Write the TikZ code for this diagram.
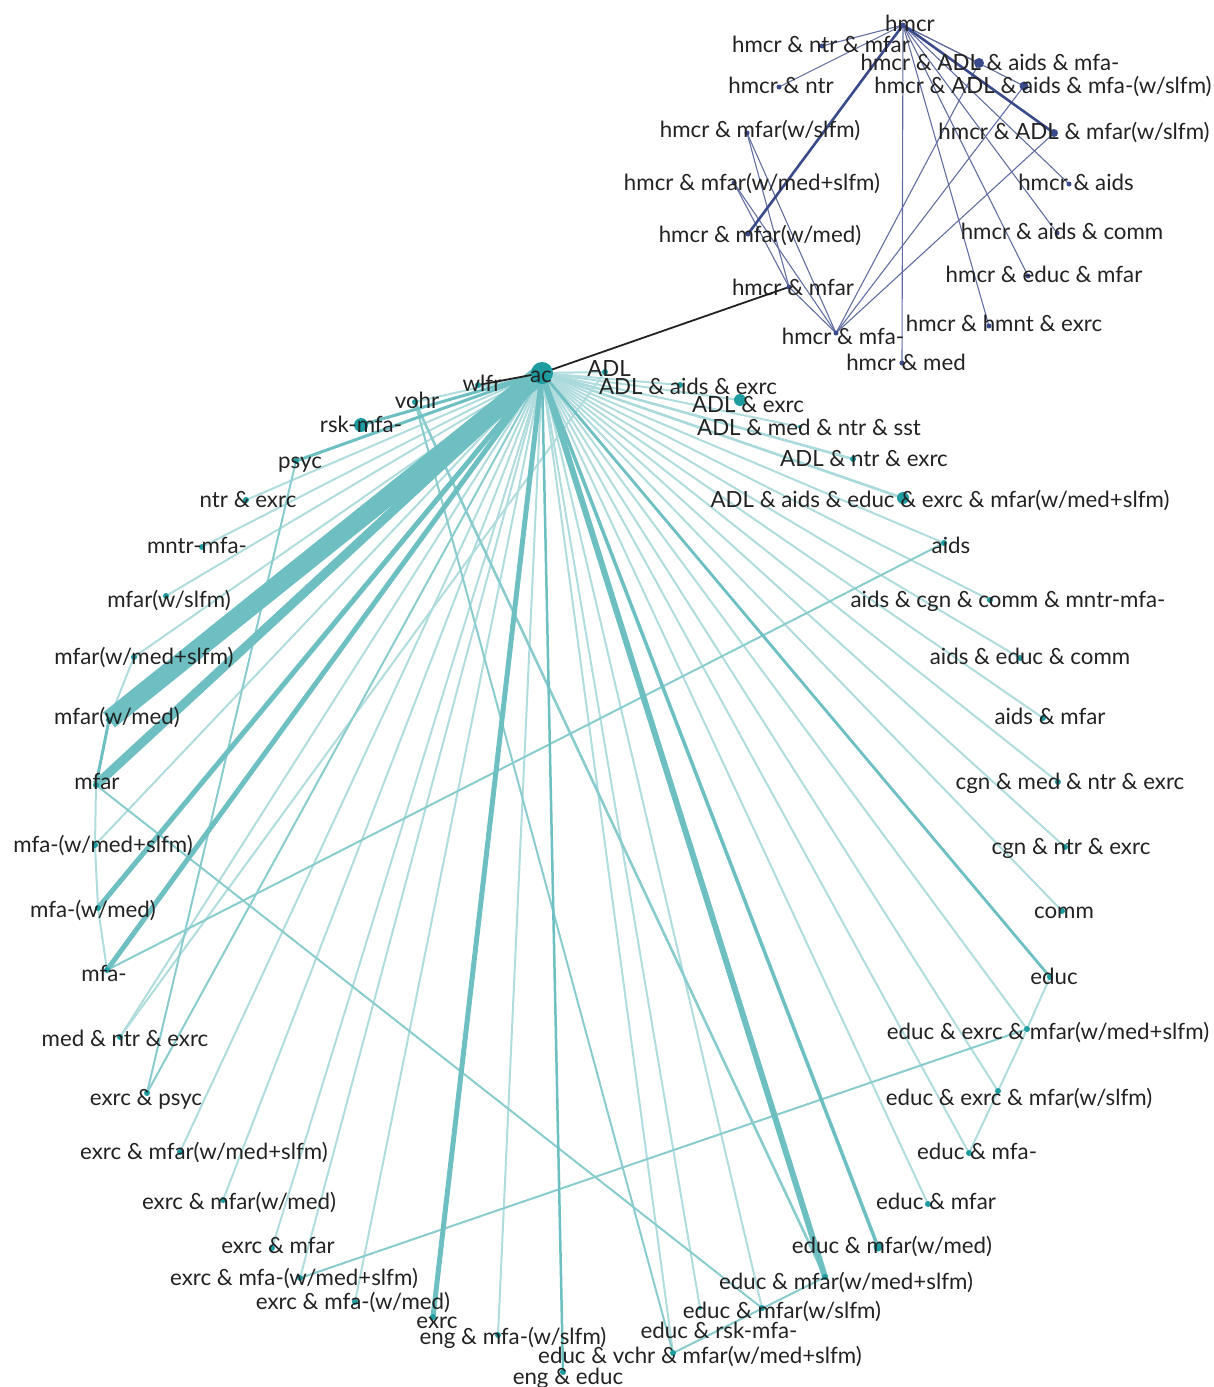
\documentclass[tikz,border=0pt]{standalone}
\usepackage{fontspec}
\setmainfont{Lato}
\definecolor{tl}{HTML}{1E9CA0}
\definecolor{bl}{HTML}{3B4A8A}
\definecolor{tx}{HTML}{222222}
\pgfdeclarelayer{edges}
\pgfdeclarelayer{dots}
\pgfsetlayers{edges,dots,main}
\tikzset{
 lbl/.style={text=tx,inner sep=0pt,text height=19pt,text depth=3pt,font=\fontsize{22.3}{25}\selectfont},
 tdot/.style={circle,fill=tl,inner sep=0pt,minimum size=#1},
 tdot/.default=6pt,
 bdot/.style={circle,fill=bl,inner sep=0pt,minimum size=#1},
 bdot/.default=5pt,
 el/.style={draw=tl!35,line width=2pt},
 elb/.style={draw=tl!38,line width=2.6pt},
 em/.style={draw=tl!52,line width=2pt},
 emd/.style={draw=tl!65,line width=#1},
 bthin/.style={draw=bl!80,line width=1.1pt},
 bthick/.style={draw=bl,line width=2.6pt},
 blk/.style={draw=tx,line width=1.8pt}
}
\newcommand\TN[5][6pt]{\begin{pgfonlayer}{dots}\node[tdot=#1] (#2) at (#3) {};\end{pgfonlayer}\node[lbl] (#2-l) at (#4) {#5};}
\newcommand\BN[5][5pt]{\begin{pgfonlayer}{dots}\node[bdot=#1] (#2) at (#3) {};\end{pgfonlayer}\node[lbl] (#2-l) at (#4) {#5};}
\begin{document}
\begin{tikzpicture}[x=1pt,y=-1pt]
\useasboundingbox (0,0) rectangle (1213,1387);
% ---- blue cluster
\BN{h}{903,25}{910,23}{hmcr}
\BN{hnm}{822,46}{821,44}{hmcr \& ntr \& mfar}
\BN[10pt]{haam}{979,63}{990,62}{hmcr \& ADL \& aids \& mfa-}
\BN{hn}{779,87}{781,85}{hmcr \& ntr}
\BN[9pt]{haams}{1024,86}{1043,85}{hmcr \& ADL \& aids \& mfa-(w/slfm)}
\BN{hms}{747,133}{760,129}{hmcr \& mfar(w/slfm)}
\BN[8pt]{hams}{1054,133}{1074,131}{hmcr \& ADL \& mfar(w/slfm)}
\BN{hmms}{734,183}{752,182}{hmcr \& mfar(w/med+slfm)}
\BN{ha}{1069,184}{1076,182}{hmcr \& aids}
\BN{hmm}{748,234}{760,234}{hmcr \& mfar(w/med)}
\BN{hac}{1057,233}{1062,231}{hmcr \& aids \& comm}
\BN{hem}{1028,276}{1044,274}{hmcr \& educ \& mfar}
\BN{hm}{789,287}{793,287}{hmcr \& mfar}
\BN{hma}{836,333}{843,336}{hmcr \& mfa-}
\BN{hhe}{989,326}{1004,323}{hmcr \& hmnt \& exrc}
\BN{hmed}{902,363}{906,362}{hmcr \& med}
% ---- teal cluster
\TN[22pt]{ac}{542,373}{541,374}{ac}
\TN{adl}{605,372}{609,368}{ADL}
\TN{adlae}{680,385}{688,386}{ADL \& aids \& exrc}
\TN[12pt]{adle}{740,400}{748,404}{ADL \& exrc}
\TN[4pt]{adlmns}{800,427}{809,427}{ADL \& med \& ntr \& sst}
\TN{adlne}{853,459}{864,458}{ADL \& ntr \& exrc}
\TN[12pt]{adlaeem}{903,498}{940,499}{ADL \& aids \& educ \& exrc \& mfar(w/med+slfm)}
\TN{aids}{944,543}{951,545}{aids}
\TN{acc}{990,600}{1008,599}{aids \& cgn \& comm \& mntr-mfa-}
\TN{aec}{1020,658}{1030,656}{aids \& educ \& comm}
\TN{am}{1043,718}{1050,716}{aids \& mfar}
\TN{cmne}{1058,782}{1070,781}{cgn \& med \& ntr \& exrc}
\TN{cne}{1065,847}{1071,846}{cgn \& ntr \& exrc}
\TN{comm}{1062,911}{1064,910}{comm}
\TN{educ}{1050,977}{1054,976}{educ}
\TN{eemms}{1027,1029}{1048,1031}{educ \& exrc \& mfar(w/med+slfm)}
\TN{eems}{998,1091}{1019,1097}{educ \& exrc \& mfar(w/slfm)}
\TN{ema}{969,1153}{977,1151}{educ \& mfa-}
\TN{emf}{928,1204}{936,1201}{educ \& mfar}
\TN[9pt]{emm}{878,1247}{892,1245}{educ \& mfar(w/med)}
\TN{emms}{825,1277}{846,1281}{educ \& mfar(w/med+slfm)}
\TN{ems}{762,1308}{782,1310}{educ \& mfar(w/slfm)}
\TN[4pt]{erm}{700,1308}{719,1330}{educ \& rsk-mfa-}
\TN{evm}{673,1353}{700,1355}{educ \& vchr \& mfar(w/med+slfm)}
\TN{ee}{563,1372}{568,1376}{eng \& educ}
\TN{ema2}{498,1335}{513,1336}{eng \& mfa-(w/slfm)}
\TN{exrc}{433,1317}{437,1320}{exrc}
\TN{xmam}{355,1302}{353,1301}{exrc \& mfa-(w/med)}
\TN{xmams}{300,1278}{294,1277}{exrc \& mfa-(w/med+slfm)}
\TN{xmf}{272,1248}{278,1245}{exrc \& mfar}
\TN{xmm}{223,1200}{239,1201}{exrc \& mfar(w/med)}
\TN{xmms}{180,1152}{204,1151}{exrc \& mfar(w/med+slfm)}
\TN{xp}{147,1093}{146,1097}{exrc \& psyc}
\TN{mne}{120,1037}{125,1038}{med \& ntr \& exrc}
\TN{mfam}{107,970}{104,973}{mfa-}
\TN{mfamm}{98,908}{93,909}{mfa-(w/med)}
\TN{mfamms}{95,845}{103,844}{mfa-(w/med+slfm)}
\TN{mfar}{96,785}{97,781}{mfar}
\TN{mfarm}{109,720}{117,716}{mfar(w/med)}
\TN{mfarms}{134,657}{144,656}{mfar(w/med+slfm)}
\TN{mfars}{166,596}{169,599}{mfar(w/slfm)}
\TN{mntr}{202,547}{197,545}{mntr-mfa-}
\TN{ntre}{246,500}{248,499}{ntr \& exrc}
\TN{psyc}{296,461}{300,460}{psyc}
\TN[14pt]{rsk}{361,425}{361,424}{rsk-mfa-}
\TN{vohr}{415,402}{417,400}{vohr}
\TN{wlfr}{478,385}{482,383}{wlfr}
% ---- edges
\begin{pgfonlayer}{edges}
\foreach \n in {adl,adlae,adle,adlmns,aids,acc,aec,am,cmne,cne,comm,eemms,eems,ema,emf,ems,erm,evm,ema2,xmam,xmams,xmf,xmm,xmms,mne,mfamms,mfarms,mfars,mntr,ntre,vohr}
  \draw[el] (ac.center) -- (\n.center);
\foreach \n in {adlne,adlaeem}
  \draw[elb] (ac.center) -- (\n.center);
\draw[el] (adl.center) -- (mne.center);
\draw[el] (mfarms.center) -- (mfarm.center);
\draw[el] (mfar.center) -- (mfamms.center) -- (mfamm.center) -- (mfam.center);
\draw[el] (educ.center) -- (eemms.center) -- (eems.center) -- (ema.center);
\draw[em] (aids.center) -- (mfam.center);
\draw[em] (xmams.center) -- (eemms.center);
\draw[em] (mfar.center) -- (ems.center);
\draw[em] (vohr.center) -- (evm.center);
\draw[em] (psyc.center) -- (xp.center);
\draw[em] (emms.center) -- (evm.center);
\draw[em,line width=2.6pt] (vohr.center) -- (emms.center);
\draw[em] (ac.center) -- (xp.center);
\draw[emd=2.5pt] (ac.center) -- (ee.center);
\draw[emd=2.8pt] (ac.center) -- (educ.center);
\draw[emd=3.5pt] (ac.center) -- (emm.center);
\draw[emd=3pt] (ac.center) -- (psyc.center);
\draw[emd=3pt] (ac.center) -- (rsk.center);
\draw[emd=3pt] (mfarm.center) -- (mfar.center);
\draw[emd=5pt] (ac.center) -- (exrc.center);
\draw[emd=5pt] (ac.center) -- (mfam.center);
\draw[emd=5pt] (ac.center) -- (mfamm.center);
\draw[emd=6pt] (ac.center) -- (emms.center);
\draw[emd=9pt] (ac.center) -- (mfar.center);
\draw[emd=19pt] (ac.center) -- (mfarm.center);
\draw[blk] (ac.center) -- (wlfr.center);
\draw[blk] (ac.center) -- (hm.center);
\foreach \n in {hnm,hn,haam,haams,ha,hac,hem,hhe,hmed}
  \draw[bthin] (h.center) -- (\n.center);
\draw[bthin] (hms.center) -- (hm.center);
\draw[bthin] (hms.center) -- (hma.center);
\draw[bthin] (hmms.center) -- (hm.center);
\draw[bthin] (hmms.center) -- (hma.center);
\draw[bthin] (hm.center) -- (hma.center);
\foreach \n in {haam,haams,hams}
  \draw[bthin] (hma.center) -- (\n.center);
\draw[bthick] (h.center) -- (hmm.center);
\draw[bthick] (h.center) -- (hams.center);
\end{pgfonlayer}
\end{tikzpicture}
\end{document}
